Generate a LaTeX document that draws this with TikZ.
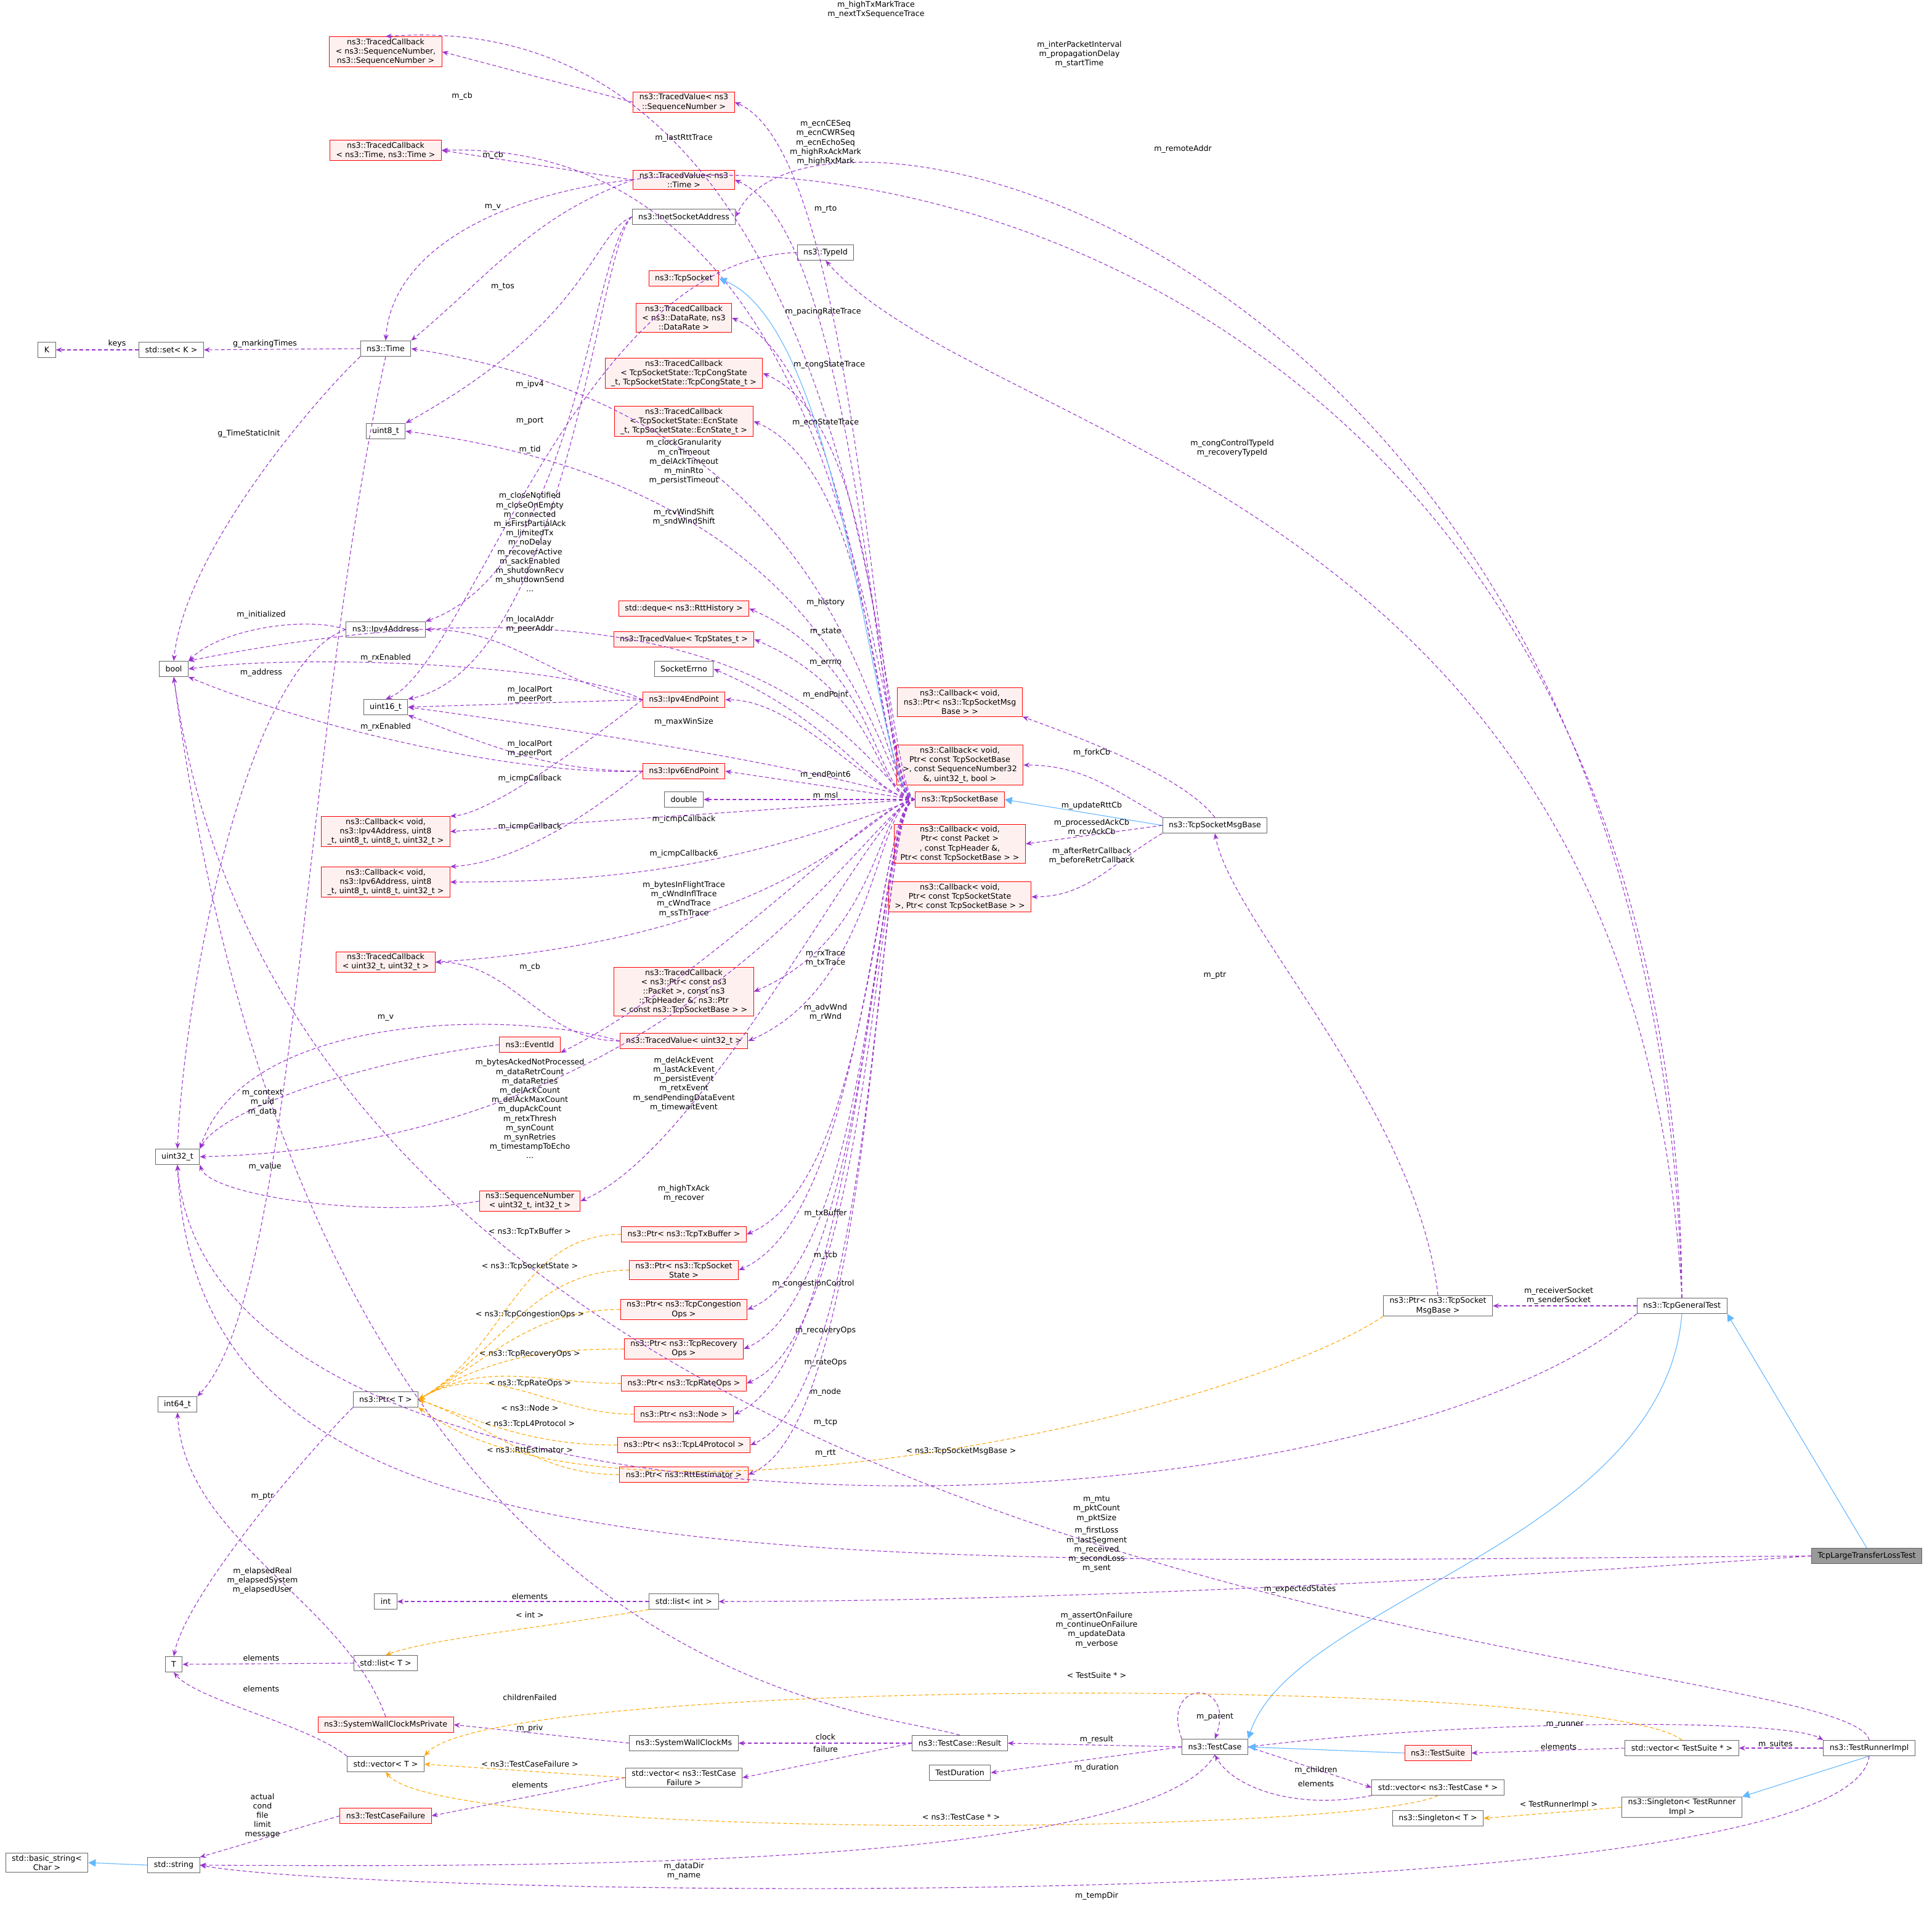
\documentclass[tikz,border=0pt]{standalone}
\usepackage{fontspec}
\setmainfont{DejaVu Sans}
\usetikzlibrary{arrows.meta}
\definecolor{mc}{HTML}{9A32CD}
\definecolor{oc}{HTML}{FFA500}
\definecolor{bc}{HTML}{63B8FF}
\definecolor{rf}{HTML}{FFF0F0}
\begin{document}
\begin{tikzpicture}[x=1pt,y=-1pt,
 every node/.style={font=\fontsize{6.3}{7.6}\selectfont},
 box/.style={draw=black!60, fill=white, inner xsep=5pt, inner ysep=1.5pt, minimum height=12.5pt, align=center, line width=0.5pt},
 rbox/.style={box, draw=red, fill=rf},
 mem/.style={draw=mc, dashed, dash pattern=on 3pt off 2pt, line width=0.55pt, -{Stealth[length=5pt,width=4pt]}},
 tmpl/.style={draw=oc, dashed, dash pattern=on 3pt off 2pt, line width=0.55pt, -{Stealth[length=5pt,width=4pt]}},
 inh/.style={draw=bc, line width=0.55pt, -{Triangle[open,length=6pt,width=6pt,fill=bc]}},
 lab/.style={align=center, inner sep=0.5pt}]
\useasboundingbox (0,0) rectangle (1568,1547.5);
\fill[white] (0,0) rectangle (1568,1547.5);
% ---------- nodes ----------
\node[box] (K) at (38,284) {K};
\node[box] (setK) at (139,284) {std::set< K >};
\node[box] (time) at (313,283) {ns3::Time};
\node[box] (u8) at (313,350) {uint8\_t};
\node[box] (bool) at (141,543) {bool};
\node[box] (ipv4) at (313,511) {ns3::Ipv4Address};
\node[box] (u16) at (313,574) {uint16\_t};
\node[box] (u32) at (144,939) {uint32\_t};
\node[box] (i64) at (144,1140) {int64\_t};
\node[box] (T) at (141,1351) {T};
\node[box] (int) at (313,1300) {int};
\node[box] (bstr) at (38,1512) {std::basic\_string<\\Char >};
\node[box] (str) at (141,1514) {std::string};
\node[rbox] (tcSeq) at (313,42) {ns3::TracedCallback\\< ns3::SequenceNumber,\\ ns3::SequenceNumber >};
\node[rbox] (tcTime) at (313,122) {ns3::TracedCallback\\< ns3::Time, ns3::Time >};
\node[rbox] (cbV4) at (313,675) {ns3::Callback< void,\\ ns3::Ipv4Address, uint8\\\_t, uint8\_t, uint8\_t, uint32\_t >};
\node[rbox] (cbV6) at (313,716) {ns3::Callback< void,\\ ns3::Ipv6Address, uint8\\\_t, uint8\_t, uint8\_t, uint32\_t >};
\node[rbox] (tcU32) at (313,781) {ns3::TracedCallback\\< uint32\_t, uint32\_t >};
\node[box] (ptrT) at (313,1136) {ns3::Ptr< T >};
\node[box] (listT) at (313,1350) {std::list< T >};
\node[rbox] (swcp) at (313,1400) {ns3::SystemWallClockMsPrivate};
\node[box] (vecT) at (313,1432) {std::vector< T >};
\node[rbox] (tcf) at (313,1474) {ns3::TestCaseFailure};
\node[rbox] (tvSeq) at (555,83) {ns3::TracedValue< ns3\\::SequenceNumber >};
\node[rbox] (tvTime) at (555,146) {ns3::TracedValue< ns3\\::Time >};
\node[box] (inet) at (555,176) {ns3::InetSocketAddress};
\node[box] (typeid) at (670,205) {ns3::TypeId};
\node[rbox] (tcpsock) at (555,226) {ns3::TcpSocket};
\node[rbox] (tcRate) at (555,258) {ns3::TracedCallback\\< ns3::DataRate, ns3\\::DataRate >};
\node[rbox] (tcCong) at (555,303) {ns3::TracedCallback\\< TcpSocketState::TcpCongState\\\_t, TcpSocketState::TcpCongState\_t >};
\node[rbox] (tcEcn) at (555,342) {ns3::TracedCallback\\< TcpSocketState::EcnState\\\_t, TcpSocketState::EcnState\_t >};
\node[rbox] (deque) at (555,494) {std::deque< ns3::RttHistory >};
\node[rbox] (tvStates) at (555,519) {ns3::TracedValue< TcpStates\_t >};
\node[box] (errno) at (555,543) {SocketErrno};
\node[rbox] (ep4) at (555,568) {ns3::Ipv4EndPoint};
\node[rbox] (ep6) at (555,626) {ns3::Ipv6EndPoint};
\node[box] (double) at (555,649) {double};
\node[rbox] (tcPkt) at (555,805) {ns3::TracedCallback\\< ns3::Ptr< const ns3\\::Packet >, const ns3\\::TcpHeader \&, ns3::Ptr\\< const ns3::TcpSocketBase > >};
\node[rbox] (tvU32) at (555,845) {ns3::TracedValue< uint32\_t >};
\node[rbox] (event) at (430,848) {ns3::EventId};
\node[rbox] (seqn) at (430,975) {ns3::SequenceNumber\\< uint32\_t, int32\_t >};
\node[rbox] (pTx) at (555,1002) {ns3::Ptr< ns3::TcpTxBuffer >};
\node[rbox] (pTcb) at (555,1031) {ns3::Ptr< ns3::TcpSocket\\State >};
\node[rbox] (pCong) at (555,1063) {ns3::Ptr< ns3::TcpCongestion\\Ops >};
\node[rbox] (pRec) at (555,1095) {ns3::Ptr< ns3::TcpRecovery\\Ops >};
\node[rbox] (pRate) at (555,1123) {ns3::Ptr< ns3::TcpRateOps >};
\node[rbox] (pNode) at (555,1148) {ns3::Ptr< ns3::Node >};
\node[rbox] (pL4) at (555,1173) {ns3::Ptr< ns3::TcpL4Protocol >};
\node[rbox] (pRtt) at (555,1197) {ns3::Ptr< ns3::RttEstimator >};
\node[box] (listInt) at (555,1300) {std::list< int >};
\node[box] (swc) at (555,1415) {ns3::SystemWallClockMs};
\node[box] (vecTCF) at (555,1443) {std::vector< ns3::TestCase\\Failure >};
\node[box] (tdur) at (779,1439) {TestDuration};
\node[rbox] (tsb) at (779,649) {ns3::TcpSocketBase};
\node[rbox] (cbFork) at (779,570) {ns3::Callback< void,\\ ns3::Ptr< ns3::TcpSocketMsg\\Base > >};
\node[rbox] (cbRtt) at (779,621) {ns3::Callback< void,\\ Ptr< const TcpSocketBase\\ >, const SequenceNumber32\\ \&, uint32\_t, bool >};
\node[rbox] (cbAck) at (779,685) {ns3::Callback< void,\\ Ptr< const Packet >\\, const TcpHeader \&,\\ Ptr< const TcpSocketBase > >};
\node[rbox] (cbRetr) at (779,728) {ns3::Callback< void,\\ Ptr< const TcpSocketState\\ >, Ptr< const TcpSocketBase > >};
\node[box] (msg) at (986,670) {ns3::TcpSocketMsgBase};
\node[box] (pMsg) at (1167,1060) {ns3::Ptr< ns3::TcpSocket\\MsgBase >};
\node[box] (gen) at (1365,1060) {ns3::TcpGeneralTest};
\node[box, fill=black!40] (large) at (1515,1263) {TcpLargeTransferLossTest};
\node[box] (result) at (779,1415) {ns3::TestCase::Result};
\node[box] (tc) at (986,1418) {ns3::TestCase};
\node[rbox] (suite) at (1167,1423) {ns3::TestSuite};
\node[box] (vecSuite) at (1365,1419) {std::vector< TestSuite * >};
\node[box] (runner) at (1517,1419) {ns3::TestRunnerImpl};
\node[box] (vecTC) at (1167,1451) {std::vector< ns3::TestCase * >};
\node[box] (singR) at (1365,1467) {ns3::Singleton< TestRunner\\Impl >};
\node[box] (singT) at (1167,1476) {ns3::Singleton< T >};
% ---------- edges from TcpSocketBase ----------
\draw[mem] (tsb.west) .. controls (712,645) and (712,0) .. (tcSeq.north);
\foreach \n in {tvSeq,tvTime,tcRate,tcCong,tcEcn,deque,tvStates,errno}
  \draw[mem] (tsb.west) .. controls +(-32,0) and +(105,45) .. (\n.east);
\draw[mem] (tsb.west) .. controls +(-32,0) and +(350,-10) .. (tcTime.east);
\draw[inh] (tsb.west) .. controls +(-32,0) and +(105,45) .. (tcpsock.east);
\draw[mem] (tsb.west) .. controls +(-32,0) and +(380,60) .. (time.east);
\draw[mem] (tsb.west) .. controls +(-32,0) and +(380,50) .. (u8.east);
\draw[mem] (tsb.west) .. controls +(-32,0) and +(500,-100) .. (bool.north east);
\draw[mem] (tsb.west) .. controls +(-32,0) and +(60,0) .. (ep4.east);
\draw[mem] (tsb.west) .. controls (650,620) and (450,590) .. (u16.east);
\draw[mem] (tsb.west) -- (ep6.east);
\draw[mem] (tsb.west) -- (double.east);
\draw[mem] (tsb.west) -- (cbV4.east);
\draw[mem] (tsb.west) to[out=200,in=0] (cbV6.east);
\draw[mem] (tsb.west) .. controls +(-32,0) and +(300,-20) .. (tcU32.east);
\foreach \n in {tcPkt,tvU32,seqn,pTx,pTcb,pCong,pRec,pRate,pNode,pL4,pRtt}
  \draw[mem] (tsb.west) .. controls +(-32,0) and +(105,-45) .. (\n.east);
\draw[mem] (tsb.west) .. controls +(-32,0) and +(120,-60) .. (event.south east);
\draw[mem] (tsb.west) .. controls +(-32,0) and +(400,-10) .. (u32.east);
% ---------- Ptr templates ----------
\foreach \p in {pTx,pTcb,pCong,pRec,pRate,pNode}
  \draw[tmpl] (\p.west) to[out=180,in=30] (ptrT.east);
\foreach \p in {pL4,pRtt}
  \draw[tmpl] (\p.west) to[out=180,in=-20] (ptrT.east);
\draw[tmpl] (pMsg.south west) .. controls (1000,1150) and (500,1260) .. (ptrT.south east);
\draw[mem] (ptrT.south west) .. controls (230,1200) and (150,1300) .. (T.north);
% ---------- misc edges ----------
\draw[mem] (tvSeq.west) -- (tcSeq.east);
\draw[mem] (tvTime.west) -- (tcTime.east);
\draw[mem] (tvTime.west) to[out=200,in=40] (time.north east);
\draw[mem] (inet.west) .. controls (480,190) and (480,260) .. (u8.north east);
\draw[mem] (inet.west) .. controls (480,200) and (470,460) .. (ipv4.north east);
\draw[mem] (inet.west) .. controls (485,200) and (460,540) .. (u16.north east);
\draw[mem] (typeid.west) .. controls (470,210) and (380,540) .. (u16.north);
\draw[mem] (ep4.west) to[out=170,in=0] (ipv4.east);
\draw[mem] (ep4.west) -- (u16.east);
\draw[mem] (ep4.west) .. controls (470,540) and (250,530) .. (bool.east);
\draw[mem] (ep4.west) .. controls (480,600) and (400,660) .. (cbV4.north east);
\draw[mem] (ep6.west) to[out=180,in=-20] (u16.south east);
\draw[mem] (ep6.west) .. controls (420,630) and (250,590) .. (bool.south east);
\draw[mem] (ep6.west) .. controls (480,660) and (420,700) .. (cbV6.north east);
\draw[mem] (tvU32.west) to[out=180,in=0] (tcU32.east);
\draw[mem] (tvU32.west) .. controls (420,820) and (200,820) .. (u32.north east);
\draw[mem] (event.west) .. controls (300,860) and (180,900) .. (u32.north east);
\draw[mem] (seqn.west) .. controls (300,990) and (170,970) .. (u32.south east);
\draw[mem] (ipv4.west) .. controls (200,540) and (150,800) .. (u32.north);
\draw[mem] (ipv4.west) .. controls (250,500) and (180,510) .. (bool.north east);
\draw[mem] (time.west) -- (setK.east);
\draw[mem] (setK.west) -- (K.east);
\draw[mem] (time.south west) .. controls (250,330) and (150,450) .. (bool.north);
\draw[mem] (time.south) .. controls (245,600) and (240,1050) .. (i64.north east);
% TcpSocketMsgBase
\draw[inh] (msg.west) -- (tsb.east);
\draw[mem] (msg.north) .. controls (960,630) and (880,600) .. (cbFork.south east);
\draw[mem] (msg.north west) to[out=150,in=0] (cbRtt.east);
\draw[mem] (msg.west) -- (cbAck.east);
\draw[mem] (msg.south west) to[out=-150,in=0] (cbRetr.east);
\draw[mem] (pMsg.north) .. controls (1150,900) and (1000,750) .. (msg.south);
% TcpGeneralTest
\draw[mem] (gen.west) -- (pMsg.east);
\draw[mem] (gen.north) .. controls (1360,40) and (330,30) .. (time.north);
\draw[mem] (gen.north) .. controls (1345,200) and (660,40) .. (inet.east);
\draw[mem] (gen.north) .. controls (1330,400) and (800,360) .. (typeid.south);
\draw[mem] (gen.south west) .. controls (1100,1260) and (170,1280) .. (u32.south);
\draw[inh] (gen.south) .. controls (1350,1250) and (1050,1300) .. (tc.north east);
% TcpLargeTransferLossTest
\draw[inh] (large.north) -- (gen.south east);
\draw[mem] (large.west) .. controls (600,1270) and (160,1290) .. (u32.south);
\draw[mem] (large.west) .. controls (1300,1275) and (900,1300) .. (listInt.east);
% lists/vectors
\draw[mem] (listInt.west) -- (int.east);
\draw[tmpl] (listInt.south west) .. controls (450,1320) and (350,1330) .. (listT.north);
\draw[mem] (listT.west) -- (T.east);
\draw[mem] (vecT.north west) .. controls (250,1400) and (160,1380) .. (T.south);
\draw[mem] (swcp.north) .. controls (280,1300) and (150,1250) .. (i64.south);
\draw[mem] (swc.west) -- (swcp.east);
\draw[mem] (result.west) -- (swc.east);
\draw[mem] (result.west) -- (vecTCF.east);
\draw[mem] (result.north) .. controls (700,1385) and (250,1370) .. (bool.south);
\draw[mem] (vecTCF.west) -- (tcf.east);
\draw[tmpl] (vecTCF.west) -- (vecT.east);
\draw[mem] (tcf.west) -- (str.north east);
\draw[inh] (str.west) -- (bstr.east);
% TestCase
\draw[mem] (tc.west) -- (result.east);
\draw[mem] (tc.west) -- (tdur.east);
\draw[mem] (tc.north west) to[out=110,in=70,looseness=5] (tc.north);
\draw[mem] (tc.east) -- (vecTC.west);
\draw[mem] (vecTC.south west) .. controls (1050,1470) and (1000,1450) .. (tc.south);
\draw[tmpl] (vecTC.south) .. controls (1100,1490) and (360,1495) .. (vecT.south);
\draw[mem] (tc.east) .. controls (1200,1395) and (1450,1395) .. (runner.north west);
\draw[mem] (tc.south) .. controls (930,1520) and (400,1515) .. (str.east);
\draw[inh] (suite.west) -- (tc.east);
\draw[mem] (vecSuite.west) -- (suite.east);
\draw[tmpl] (vecSuite.north) .. controls (1300,1360) and (400,1360) .. (vecT.north east);
\draw[mem] (runner.west) -- (vecSuite.east);
\draw[inh] (runner.south) -- (singR.north east);
\draw[tmpl] (singR.west) -- (singT.east);
\draw[mem] (runner.north) .. controls (1500,1335) and (250,1330) .. (bool.south);
\draw[mem] (runner.south) .. controls (1500,1560) and (300,1540) .. (str.east);
% ---------- labels ----------
\node[lab] (l1) at (711,8) {m\_highTxMarkTrace\\m\_nextTxSequenceTrace};
\node[lab] (l2) at (375,78) {m\_cb};
\node[lab] (l3) at (876,44) {m\_interPacketInterval\\m\_propagationDelay\\m\_startTime};
\node[lab] (l4) at (670,116) {m\_ecnCESeq\\m\_ecnCWRSeq\\m\_ecnEchoSeq\\m\_highRxAckMark\\m\_highRxMark};
\node[lab] (l5) at (555,112) {m\_lastRttTrace};
\node[lab] (l6) at (400,126) {m\_cb};
\node[lab] (l7) at (670,170) {m\_rto};
\node[lab] (l8) at (960,121) {m\_remoteAddr};
\node[lab] (l9) at (400,168) {m\_v};
\node[lab] (l10) at (408,233) {m\_tos};
\node[lab] (l11) at (668,253) {m\_pacingRateTrace};
\node[lab] (l12) at (673,296) {m\_congStateTrace};
\node[lab] (l13) at (670,343) {m\_ecnStateTrace};
\node[lab] (l14) at (430,312) {m\_ipv4};
\node[lab] (l15) at (430,342) {m\_port};
\node[lab] (l16) at (430,365) {m\_tid};
\node[lab] (l17) at (555,375) {m\_clockGranularity\\m\_cnTimeout\\m\_delAckTimeout\\m\_minRto\\m\_persistTimeout};
\node[lab] (l18) at (1000,364) {m\_congControlTypeId\\m\_recoveryTypeId};
\node[lab] (l19) at (215,279) {g\_markingTimes};
\node[lab] (l20) at (95,279) {keys};
\node[lab] (l21) at (202,352) {g\_TimeStaticInit};
\node[lab] (l22) at (555,420) {m\_rcvWindShift\\m\_sndWindShift};
\node[lab] (l23) at (430,440) {m\_closeNotified\\m\_closeOnEmpty\\m\_connected\\m\_isFirstPartialAck\\m\_limitedTx\\m\_noDelay\\m\_recoverActive\\m\_sackEnabled\\m\_shutdownRecv\\m\_shutdownSend\\...};
\node[lab] (l24) at (212,499) {m\_initialized};
\node[lab] (l25) at (212,546) {m\_address};
\node[lab] (l26) at (670,489) {m\_history};
\node[lab] (l27) at (670,513) {m\_state};
\node[lab] (l28) at (430,507) {m\_localAddr\\m\_peerAddr};
\node[lab] (l29) at (313,534) {m\_rxEnabled};
\node[lab] (l30) at (670,538) {m\_errno};
\node[lab] (l31) at (430,564) {m\_localPort\\m\_peerPort};
\node[lab] (l32) at (670,564) {m\_endPoint};
\node[lab] (l33) at (555,586) {m\_maxWinSize};
\node[lab] (l34) at (313,590) {m\_rxEnabled};
\node[lab] (l35) at (430,608) {m\_localPort\\m\_peerPort};
\node[lab] (l36) at (670,629) {m\_endPoint6};
\node[lab] (l37) at (430,632) {m\_icmpCallback};
\node[lab] (l38) at (670,646) {m\_msl};
\node[lab] (l39) at (430,671) {m\_icmpCallback};
\node[lab] (l40) at (555,665) {m\_icmpCallback};
\node[lab] (l41) at (555,693) {m\_icmpCallback6};
\node[lab] (l42) at (886,611) {m\_forkCb};
\node[lab] (l43) at (886,654) {m\_updateRttCb};
\node[lab] (l44) at (886,672) {m\_processedAckCb\\m\_rcvAckCb};
\node[lab] (l45) at (886,695) {m\_afterRetrCallback\\m\_beforeRetrCallback};
\node[lab] (l46) at (555,730) {m\_bytesInFlightTrace\\m\_cWndInflTrace\\m\_cWndTrace\\m\_ssThTrace};
\node[lab] (l47) at (430,785) {m\_cb};
\node[lab] (l48) at (670,778) {m\_rxTrace\\m\_txTrace};
\node[lab] (l49) at (986,792) {m\_ptr};
\node[lab] (l50) at (313,826) {m\_v};
\node[lab] (l51) at (670,822) {m\_advWnd\\m\_rWnd};
\node[lab] (l52) at (213,895) {m\_context\\m\_uid\\m\_data};
\node[lab] (l53) at (430,900) {m\_bytesAckedNotProcessed\\m\_dataRetrCount\\m\_dataRetries\\m\_delAckCount\\m\_delAckMaxCount\\m\_dupAckCount\\m\_retxThresh\\m\_synCount\\m\_synRetries\\m\_timestampToEcho\\...};
\node[lab] (l54) at (555,880) {m\_delAckEvent\\m\_lastAckEvent\\m\_persistEvent\\m\_retxEvent\\m\_sendPendingDataEvent\\m\_timewaitEvent};
\node[lab] (l55) at (215,947) {m\_value};
\node[lab] (l56) at (555,969) {m\_highTxAck\\m\_recover};
\node[lab] (l57) at (430,1000) {< ns3::TcpTxBuffer >};
\node[lab] (l58) at (670,985) {m\_txBuffer};
\node[lab] (l59) at (430,1028) {< ns3::TcpSocketState >};
\node[lab] (l60) at (670,1019) {m\_tcb};
\node[lab] (l61) at (660,1042) {m\_congestionControl};
\node[lab] (l62) at (430,1067) {< ns3::TcpCongestionOps >};
\node[lab] (l63) at (670,1080) {m\_recoveryOps};
\node[lab] (l64) at (430,1099) {< ns3::TcpRecoveryOps >};
\node[lab] (l65) at (670,1106) {m\_rateOps};
\node[lab] (l66) at (430,1123) {< ns3::TcpRateOps >};
\node[lab] (l67) at (430,1143) {< ns3::Node >};
\node[lab] (l68) at (670,1130) {m\_node};
\node[lab] (l69) at (430,1156) {< ns3::TcpL4Protocol >};
\node[lab] (l70) at (670,1155) {m\_tcp};
\node[lab] (l71) at (430,1177) {< ns3::RttEstimator >};
\node[lab] (l72) at (670,1180) {m\_rtt};
\node[lab] (l73) at (780,1178) {< ns3::TcpSocketMsgBase >};
\node[lab] (l74) at (1265,1052) {m\_receiverSocket\\m\_senderSocket};
\node[lab] (l75) at (890,1225) {m\_mtu\\m\_pktCount\\m\_pktSize};
\node[lab] (l76) at (213,1215) {m\_ptr};
\node[lab] (l77) at (890,1258) {m\_firstLoss\\m\_lastSegment\\m\_received\\m\_secondLoss\\m\_sent};
\node[lab] (l78) at (213,1283) {m\_elapsedReal\\m\_elapsedSystem\\m\_elapsedUser};
\node[lab] (l79) at (430,1296) {elements};
\node[lab] (l80) at (1055,1290) {m\_expectedStates};
\node[lab] (l81) at (430,1311) {< int >};
\node[lab] (l82) at (890,1323) {m\_assertOnFailure\\m\_continueOnFailure\\m\_updateData\\m\_verbose};
\node[lab] (l83) at (212,1346) {elements};
\node[lab] (l84) at (890,1360) {< TestSuite * >};
\node[lab] (l85) at (212,1371) {elements};
\node[lab] (l86) at (430,1378) {childrenFailed};
\node[lab] (l87) at (986,1394) {m\_parent};
\node[lab] (l88) at (1270,1400) {m\_runner};
\node[lab] (l89) at (430,1403) {m\_priv};
\node[lab] (l90) at (670,1410) {clock};
\node[lab] (l91) at (890,1412) {m\_result};
\node[lab] (l92) at (1441,1416) {m\_suites};
\node[lab] (l93) at (670,1420) {failure};
\node[lab] (l94) at (1265,1418) {elements};
\node[lab] (l95) at (430,1432) {< ns3::TestCaseFailure >};
\node[lab] (l96) at (890,1435) {m\_duration};
\node[lab] (l97) at (1068,1437) {m\_children};
\node[lab] (l98) at (430,1449) {elements};
\node[lab] (l99) at (1068,1448) {elements};
\node[lab] (l100) at (1265,1465) {< TestRunnerImpl >};
\node[lab] (l101) at (780,1475) {< ns3::TestCase * >};
\node[lab] (l102) at (213,1474) {actual\\cond\\file\\limit\\message};
\node[lab] (l103) at (555,1519) {m\_dataDir\\m\_name};
\node[lab] (l104) at (890,1539) {m\_tempDir};
\end{tikzpicture}
\end{document}
